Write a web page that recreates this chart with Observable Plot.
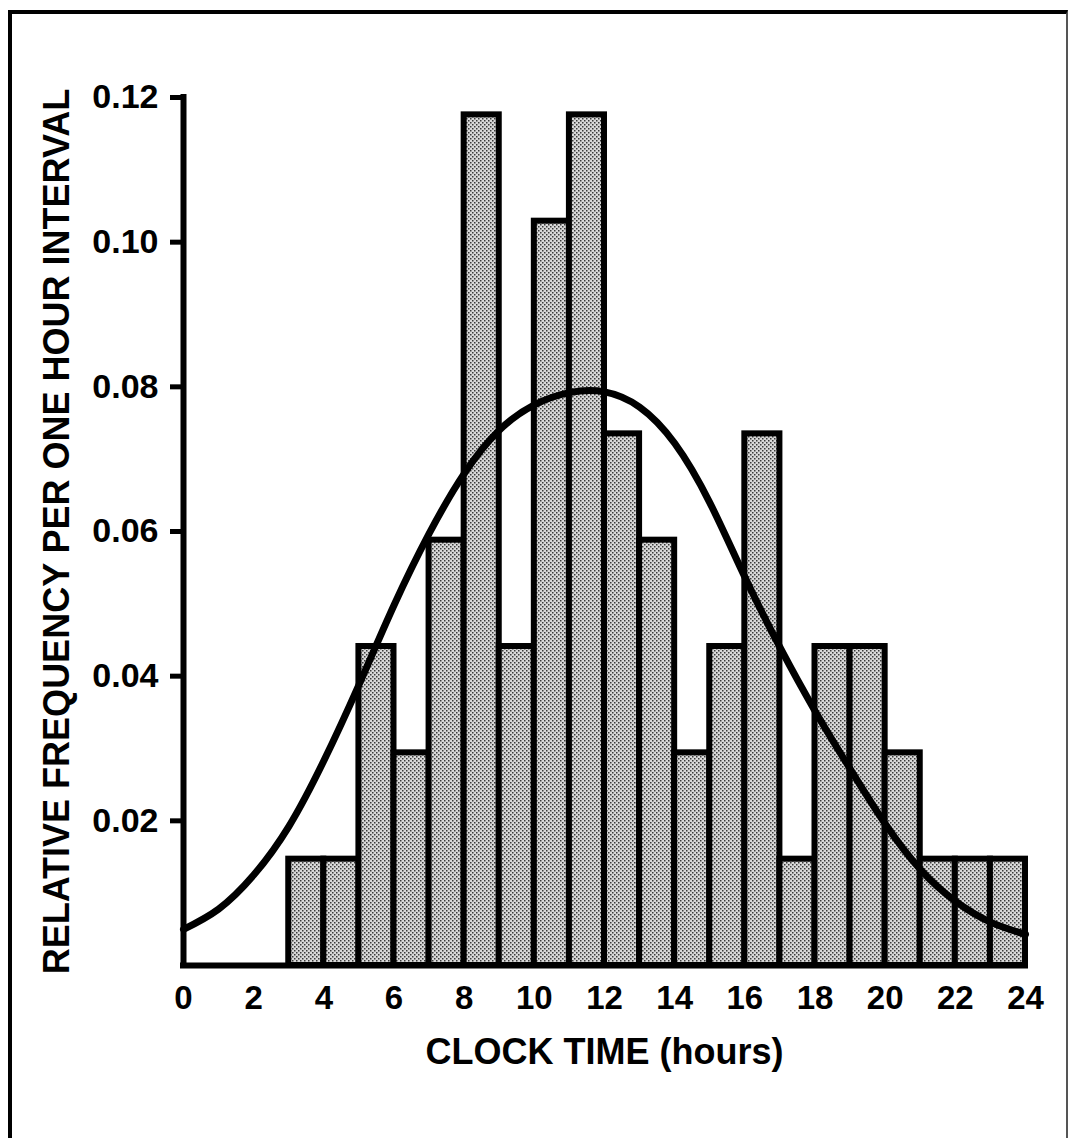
<!DOCTYPE html>
<html><head><meta charset="utf-8">
<script src="https://cdn.jsdelivr.net/npm/d3@7"></script>
<script src="https://cdn.jsdelivr.net/npm/@observablehq/plot@0.6"></script>
<style>
html,body{margin:0;padding:0;background:#fff;}
#wrap{position:relative;width:1071px;height:1138px;overflow:hidden;background:#fff;}
#wrap svg{position:absolute;left:0;top:0;}
#frame{position:absolute;left:8px;top:10px;width:1054px;height:1130px;border-left:4px solid #000;border-top:4px solid #000;border-right:2px solid #555;pointer-events:none;}
</style></head><body>
<div id="wrap"><div id="frame"></div></div>
<script>
// Histogram: one-hour intervals starting at these clock hours
const hourStart = [3,4,5,6,7,8,9,10,11,12,13,14,15,16,17,18,19,20,21,22,23];
const relFreq   = [0.0147,0.0147,0.0441,0.0294,0.0588,0.1176,0.0441,0.1029,0.1176,0.0735,0.0588,
                   0.0294,0.0441,0.0735,0.0147,0.0441,0.0441,0.0294,0.0147,0.0147,0.0147];
// Fitted curve
const curveHour    = [0,1,2,3,4,5,6,7,8,9,10,11,12,13,14,15,16,17,18,19,20,21,22,23,24];
const curveDensity = [0.0050,0.0078,0.0125,0.0192,0.0283,0.0388,0.0498,0.0597,0.0680,0.0740,0.0775,0.0792,
                      0.0793,0.0772,0.0722,0.0640,0.0537,0.0440,0.0352,0.0272,0.0196,0.0133,0.0089,0.0060,0.0043];
const xTicks = [0,2,4,6,8,10,12,14,16,18,20,22,24];
const yTicks = [0.02,0.04,0.06,0.08,0.10,0.12];
const yTitle = "RELATIVE FREQUENCY PER ONE HOUR INTERVAL";
const xTitle = "CLOCK TIME (hours)";

const bars = hourStart.map((h,i)=>({start:h, end:h+1, f:relFreq[i]}));
const curvePts = curveHour.map((h,i)=>({h, d:curveDensity[i]}));

const chart = Plot.plot({
  width: 1071,
  height: 1138,
  marginLeft: 183,
  marginRight: 46,
  marginTop: 97,
  marginBottom: 173,
  style: {fontFamily: "'Liberation Sans', Arial, sans-serif", fontWeight: "bold", background: "transparent", color: "#000"},
  x: {domain: [0,24]},
  y: {domain: [0,0.12]},
  marks: [
    Plot.rectY(bars, {x1:"start", x2:"end", y:"f", fill:"url(#stip)", stroke:"#000", strokeWidth:6, strokeLinejoin:"miter"}),
    Plot.line(curvePts, {x:"h", y:"d", curve:"natural", stroke:"#000", strokeWidth:7}),
    Plot.ruleX([0], {y1:0, y2:0.12, stroke:"#000", strokeWidth:6, strokeLinecap:"square"}),
    Plot.ruleY([0], {x1:0, x2:24, stroke:"#000", strokeWidth:6, strokeLinecap:"square"}),
    Plot.axisY({ticks: yTicks, tickFormat: d3.format(".2f"), tickSize: 13, tickPadding: 12, fontSize: 34, strokeWidth: 5, label: null}),
    Plot.axisX({ticks: xTicks, tickSize: 0, tickPadding: 20, fontSize: 33, label: null}),
    Plot.text([yTitle], {frameAnchor:"left", textAnchor:"middle", rotate:-90, dx:-126, fontSize:36, fontWeight:"bold"}),
    Plot.text([xTitle], {frameAnchor:"bottom", dy:98, fontSize:36, fontWeight:"bold"})
  ]
});

const ns = "http://www.w3.org/2000/svg";
const defs = document.createElementNS(ns, "defs");
defs.innerHTML = '<pattern id="stip" width="4" height="4" patternUnits="userSpaceOnUse">' +
  '<rect width="4" height="4" fill="#d8d8d8"/>' +
  '<rect x="0" y="0" width="1.5" height="1.5" fill="#3a3a3a"/>' +
  '<rect x="2" y="2" width="1.5" height="1.5" fill="#3a3a3a"/></pattern>';
chart.insertBefore(defs, chart.firstChild);
document.getElementById("wrap").insertBefore(chart, document.getElementById("frame"));
</script>
</body></html>
